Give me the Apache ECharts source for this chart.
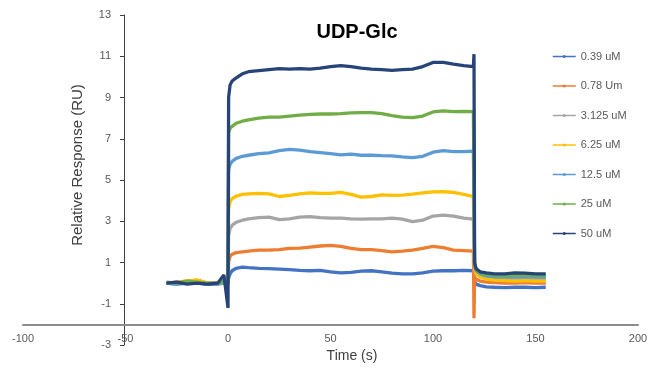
<!DOCTYPE html>
<html>
<head>
<meta charset="utf-8">
<script src="https://cdn.jsdelivr.net/npm/echarts@6/dist/echarts.min.js"></script>
<style>html,body{margin:0;padding:0;background:#fff;}#c{width:660px;height:368px;}</style>
</head>
<body>
<div id="c"></div>
<script>
// Time points (s)
var time = [-30,-25,-20,-15,-10,-5,-2,-1,0,0.3,1,2,4,7,10,15,20,25,30,35,40,45,50,55,60,65,70,75,80,85,90,95,100,105,110,115,119.7,120,120.3,121,123,126,130,135,140,145,150,155];

var seriesNames = ['0.39 uM','0.78 Um','3.125 uM','6.25 uM','12.5 uM','25 uM','50 uM'];
var seriesColors = ['#4472C4','#ED7D31','#A5A5A5','#FFC000','#5B9BD5','#70AD47','#264478'];

var s039 = [0.0,-0.05,0.0,0.0,-0.05,-0.05,0.0,0.0,0.0,0.25,0.45,0.6,0.72,0.78,0.75,0.72,0.7,0.68,0.65,0.62,0.6,0.62,0.55,0.5,0.52,0.58,0.6,0.55,0.48,0.45,0.45,0.5,0.58,0.6,0.6,0.62,0.6,0.6,0.1,-0.05,-0.12,-0.18,-0.2,-0.22,-0.2,-0.2,-0.22,-0.2];
var s078 = [0.0,0.05,0.1,0.15,0.0,0.0,0.0,0.0,0.0,1.05,1.3,1.4,1.48,1.52,1.55,1.6,1.6,1.62,1.68,1.7,1.75,1.8,1.83,1.78,1.68,1.62,1.62,1.58,1.52,1.55,1.6,1.68,1.78,1.72,1.6,1.58,1.55,-1.7,0.3,0.2,0.1,0.05,0.02,0.0,0.0,0.02,0.0,0.0];
var s3125 = [0.0,0.0,0.05,0.05,0.0,0.0,0.0,0.0,0.0,2.3,2.65,2.8,2.95,3.05,3.12,3.18,3.2,3.08,3.12,3.2,3.22,3.18,3.15,3.15,3.12,3.1,3.12,3.12,3.15,3.1,2.98,3.05,3.25,3.3,3.25,3.15,3.1,3.1,0.75,0.5,0.35,0.25,0.22,0.2,0.2,0.22,0.2,0.2];
var s625 = [0.0,0.05,0.1,0.15,0.0,0.0,0.0,0.0,0.0,3.6,3.95,4.1,4.22,4.3,4.33,4.35,4.33,4.2,4.25,4.33,4.38,4.35,4.35,4.4,4.3,4.17,4.2,4.28,4.25,4.27,4.32,4.38,4.42,4.43,4.4,4.3,4.2,4.18,0.7,0.45,0.3,0.2,0.15,0.12,0.1,0.12,0.1,0.1];
var s125 = [0.0,-0.05,0.05,0.0,-0.05,0.0,0.0,0.0,0.0,5.5,5.75,5.9,6.05,6.15,6.2,6.28,6.32,6.42,6.48,6.45,6.38,6.33,6.28,6.22,6.25,6.2,6.2,6.18,6.17,6.12,6.08,6.15,6.35,6.42,6.38,6.38,6.4,6.4,0.85,0.6,0.45,0.35,0.3,0.3,0.3,0.32,0.3,0.28];
var s25 = [0.05,0.0,0.1,0.05,0.0,0.0,0.1,0.0,0.0,7.3,7.5,7.6,7.75,7.85,7.92,8.0,8.05,8.05,8.1,8.15,8.18,8.2,8.2,8.22,8.25,8.27,8.27,8.22,8.12,8.05,8.02,8.1,8.3,8.35,8.32,8.33,8.32,8.3,0.9,0.65,0.5,0.42,0.38,0.36,0.38,0.4,0.36,0.36];
var s50 = [0.0,0.05,-0.05,0.0,-0.05,0.0,0.4,-0.4,-1.2,9.0,9.6,9.8,9.95,10.15,10.25,10.3,10.35,10.4,10.38,10.4,10.38,10.42,10.5,10.55,10.5,10.42,10.38,10.35,10.32,10.35,10.38,10.5,10.7,10.7,10.62,10.55,10.5,11.1,1.0,0.7,0.55,0.5,0.45,0.45,0.5,0.48,0.45,0.45];

var seriesValues = [s039, s078, s3125, s625, s125, s25, s50];

var xMin = -100, xMax = 200, xStep = 50;
var yMin = -3, yMax = 13, yStep = 2;

function pairs(vals) {
  return time.map(function (t, i) { return [t, vals[i]]; });
}

var font = 'Liberation Sans, Arial, sans-serif';
var chart = echarts.init(document.getElementById('c'), null, {renderer: 'canvas'});

var series = seriesNames.map(function (name, i) {
  return {
    name: name,
    type: 'line',
    data: pairs(seriesValues[i]),
    symbol: 'circle',
    symbolSize: 3,
    showSymbol: false,
    lineStyle: {width: 3.3, color: seriesColors[i]},
    itemStyle: {color: seriesColors[i]},
    z: 2 + i
  };
});

chart.setOption({
  animation: false,
  backgroundColor: '#ffffff',
  textStyle: {fontFamily: font},
  title: {
    text: 'UDP-Glc',
    left: 352,
    top: 17,
    textAlign: 'center',
    textStyle: {fontSize: 20, fontWeight: 'bold', color: '#000', fontFamily: font}
  },
  legend: {
    orient: 'vertical',
    left: 552,
    top: 51,
    padding: 0,
    itemWidth: 23,
    itemHeight: 4,
    itemGap: 18.5,
    lineStyle: {width: 1.5},
    textStyle: {fontSize: 11, color: '#595959', fontFamily: font},
    data: seriesNames
  },
  grid: {left: 23, right: 22, top: 15, bottom: 23, containLabel: false},
  xAxis: {
    type: 'value',
    min: xMin, max: xMax, interval: xStep,
    offset: -20,
    name: 'Time (s)',
    nameLocation: 'middle',
    nameGap: 22,
    nameTextStyle: {fontSize: 14, color: '#404040', fontFamily: font, padding: [0, 0, 0, 43]},
    axisLine: {show: true, onZero: false, lineStyle: {color: '#8c8c8c', width: 2}},
    axisTick: {show: false},
    splitLine: {show: false},
    axisLabel: {
      fontSize: 11, color: '#595959', margin: 8, fontFamily: font,
      formatter: function (v) { return String(v); }
    }
  },
  yAxis: {
    type: 'value',
    min: yMin, max: yMax, interval: yStep,
    offset: -101,
    name: 'Relative Response (RU)',
    nameLocation: 'middle',
    nameGap: 39,
    nameRotate: 90,
    nameTextStyle: {fontSize: 15, color: '#404040', fontFamily: font, padding: [0, 0, 0, 30]},
    axisLine: {show: true, onZero: false, lineStyle: {color: '#404040', width: 1}},
    axisTick: {show: true, inside: false, length: 4, lineStyle: {color: '#404040'}},
    splitLine: {show: false},
    axisLabel: {fontSize: 11, color: '#595959', margin: 13, fontFamily: font}
  },
  series: series
});
</script>
</body>
</html>
